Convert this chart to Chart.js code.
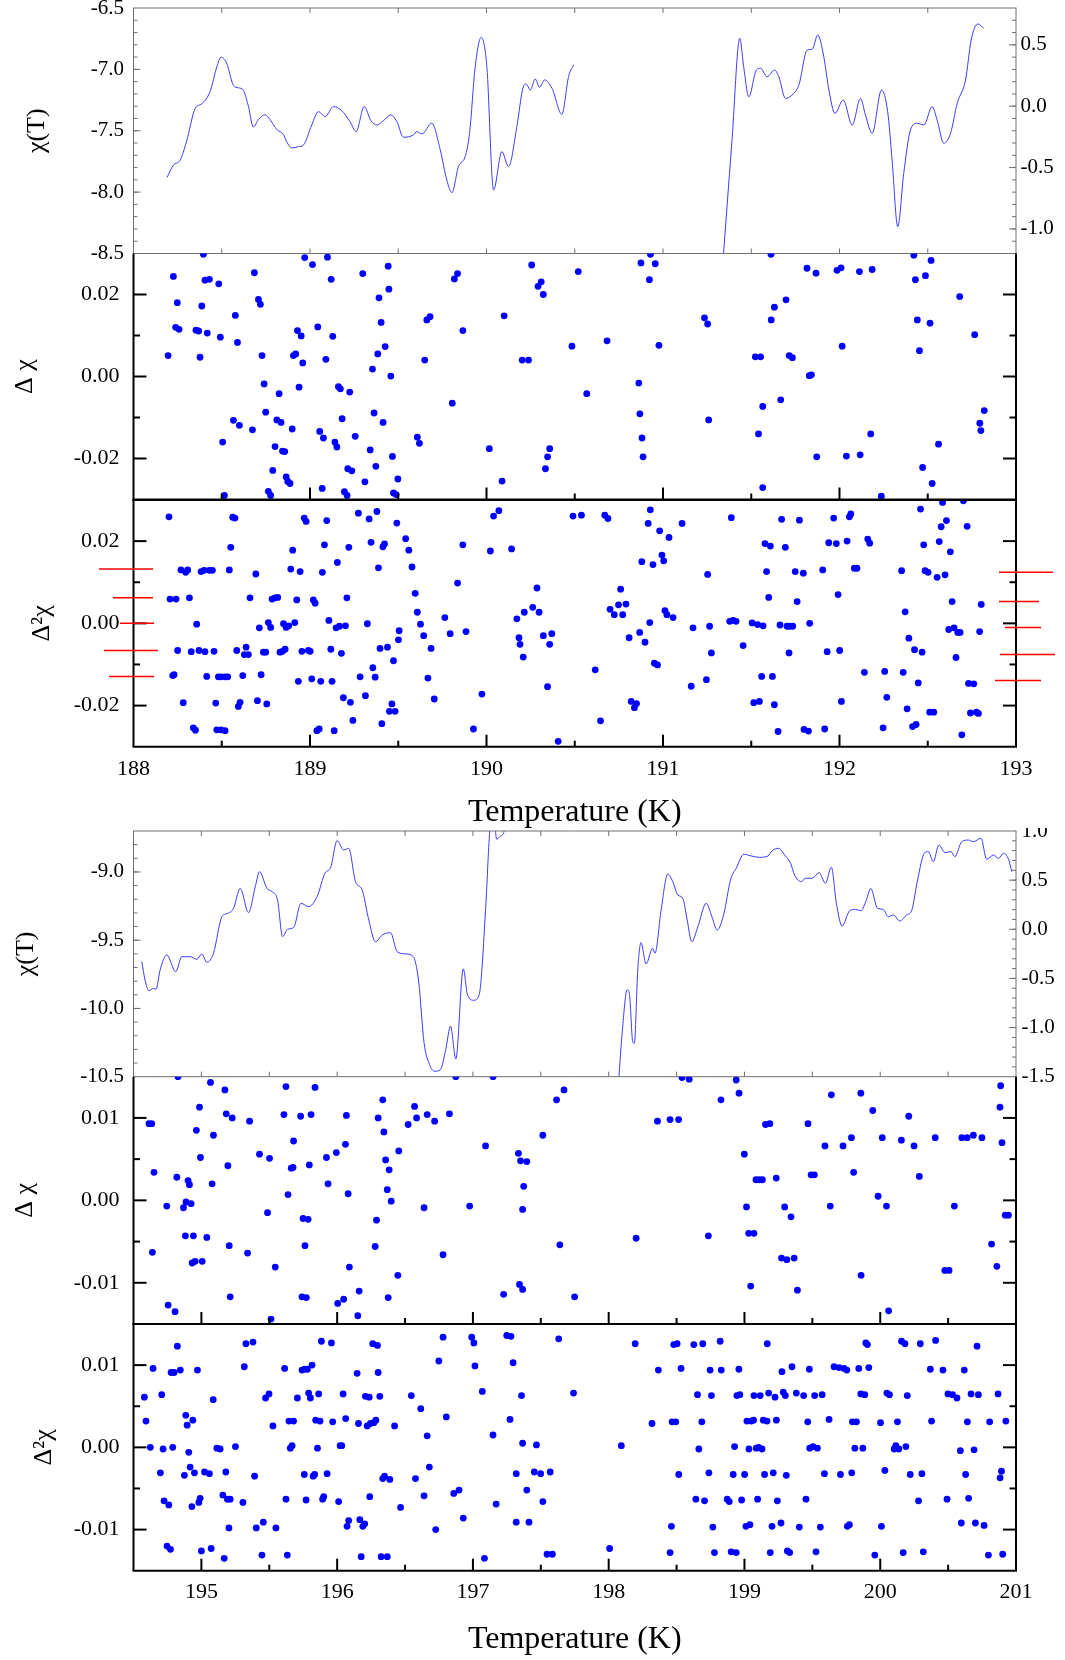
<!DOCTYPE html>
<html>
<head>
<meta charset="utf-8">
<title>χ(T)</title>
<script src="https://cdn.jsdelivr.net/npm/chart.js@4.4.0/dist/chart.umd.min.js"></script>
<style>
  html, body { margin: 0; padding: 0; background: #fff; }
  #page { position: relative; width: 1065px; height: 1660px; overflow: hidden; background: #fff; }
  #page canvas { position: absolute; left: 0; }
</style>
</head>
<body>
<div id="page"></div>
<script>
// ---------- 188 - 193 K ----------
const chiTopT = [188.19,188.226,188.264,188.30,188.349,188.387,188.434,188.472,188.496,188.528,188.566,188.594,188.622,188.651,188.679,188.707,188.745,188.774,188.812,188.849,188.868,188.897,188.934,188.963,189.010,189.048,189.086,189.133,189.180,189.227,189.261,189.307,189.345,189.379,189.416,189.458,189.492,189.530,189.586,189.605,189.634,189.690,189.738,189.775,189.804,189.841,189.879,189.904,189.936,189.970,190.002,190.040,190.087,190.125,190.172,190.206,190.225,190.248,190.276,190.301,190.329,190.371,190.427,190.465,190.493];
const chiTopV = [-7.88,-7.78,-7.74,-7.59,-7.32,-7.28,-7.18,-6.98,-6.90,-6.95,-7.13,-7.15,-7.17,-7.30,-7.47,-7.41,-7.37,-7.41,-7.49,-7.53,-7.59,-7.64,-7.63,-7.616,-7.453,-7.344,-7.385,-7.303,-7.336,-7.426,-7.507,-7.303,-7.418,-7.453,-7.418,-7.371,-7.426,-7.553,-7.534,-7.507,-7.526,-7.439,-7.656,-7.901,-8.004,-7.792,-7.711,-7.521,-6.978,-6.739,-6.978,-7.982,-7.670,-7.792,-7.466,-7.154,-7.119,-7.168,-7.078,-7.146,-7.086,-7.154,-7.366,-7.059,-6.964];
// second run, read on the right-hand axis
const chiTopRT = [191.33,191.391,191.435,191.457,191.486,191.529,191.552,191.590,191.632,191.656,191.694,191.741,191.770,191.817,191.845,191.877,191.911,191.940,191.974,192.021,192.072,192.119,192.147,192.185,192.238,192.273,192.298,192.330,192.364,192.402,192.440,192.478,192.525,192.553,192.591,192.629,192.667,192.714,192.746,192.784,192.817];
const chiTopRV = [-1.45,-0.275,0.553,0.322,0.077,0.295,0.309,0.240,0.295,0.240,0.064,0.105,0.173,0.458,0.464,0.580,0.403,0.132,-0.058,0.050,-0.153,0.064,-0.072,-0.221,0.132,-0.045,-0.438,-0.982,-0.547,-0.194,-0.139,-0.153,-0.004,-0.112,-0.302,-0.221,0.024,0.213,0.539,0.670,0.635];

const dChiTopT = [188.196,188.226,188.239,188.248,188.258,188.354,188.369,188.377,188.387,188.396,188.405,188.418,188.430,188.483,188.492,188.505,188.515,188.566,188.577,188.589,188.600,188.674,188.685,188.708,188.719,188.728,188.740,188.749,188.764,188.777,188.789,188.802,188.812,188.825,188.836,188.844,188.857,188.865,188.874,188.887,188.899,188.906,188.919,188.929,188.938,188.950,188.959,188.970,189.014,189.044,189.055,189.069,189.076,189.090,189.099,189.120,189.129,189.141,189.152,189.161,189.172,189.182,189.195,189.210,189.214,189.225,189.237,189.256,189.299,189.311,189.341,189.354,189.363,189.373,189.384,189.391,189.403,189.414,189.426,189.443,189.447,189.458,189.467,189.473,189.488,189.498,
  190.956,191.612,191.816,191.867,191.986,192.009,192.113,192.185,192.421,192.430,192.487,192.519,
  189.620,189.608,189.662,189.680,189.650,189.806,189.818,189.836,189.866,190.016,190.088,190.100,190.202,190.238,190.256,190.292,190.310,190.322,190.334,190.346,190.358,190.484,190.520,190.568,190.683,190.863,190.869,190.881,190.887,190.875,190.929,190.977,190.923,191.235,191.253,191.259,191.523,191.553,191.565,191.565,191.541,191.613,191.631,191.697,191.715,191.733,191.667,191.829,191.841,191.871,192.015,192.039,192.117,192.177,192.237,192.441,192.453,192.471,192.513,192.525,192.561,192.681,192.766,192.795,192.801,192.820];
const dChiTopV = [.0051,.0244,.0120,.0180,.0115,.0113,.0111,.0047,.0172,.0298,.0235,.0106,.0237,.0226,.0096,-.0160,-.0290,-.0107,.0149,.0083,-.0119,-.0130,.0253,.0188,.0176,.0051,-.0018,-.0087,-.0280,-.0290,-.0229,-.0171,-.0106,-.0042,-.0112,-.0182,-.0183,-.0245,-.0256,-.0261,-.0128,.0051,.0055,.0112,-.0026,.0099,.0033,.0290,.0273,.0121,-.0134,-.0273,-.0150,.0042,.0291,.0237,.0098,-.0160,-.0172,-.0025,-.0030,-.0103,-.0281,-.0290,-.0225,-.0038,-.0230,-.0146,.0251,-.0257,-.0179,.0018,-.0089,-.0219,.0055,.0192,.0132,-.0112,.0073,.0269,.0213,.0001,-.0195,-.0284,-.0288,-.0250,
  .0275,.0298,.0264,.0252,.0259,.0265,.0256,.0261,.0296,.0236,.0246,.0283,
  -.0163,-.0148,.0138,.0146,.0040,-.0065,.0238,.0251,.0112,-.0176,-.0255,.0148,.0040,.0040,.0272,.0220,.0231,.0200,-.0225,-.0196,-.0176,.0074,.0256,-.0042,.0087,-.0016,-.0091,-.0150,-.0196,.0277,.0298,.0076,.0236,.0143,.0128,-.0106,.0048,.0048,-.0073,-.0271,-.0140,.0138,.0169,.0187,.0051,.0046,-.0057,.0002,.0004,-.0196,.0074,-.0194,-.0191,-.0140,-.0292,.0138,.0063,-.0222,.0130,-.0261,-.0165,.0195,.0102,-.0114,-.0132,-.0083];

const d2ChiTopT = [188.201,188.207,188.241,188.222,188.230,188.250,188.269,188.296,188.307,188.282,188.317,188.327,188.339,188.351,188.358,188.371,188.383,188.405,188.415,188.400,188.430,188.447,188.456,188.466,188.481,188.496,188.519,188.534,188.472,188.496,188.519,188.551,188.562,188.575,188.543,188.585,188.594,188.604,188.619,188.638,188.628,188.651,188.660,188.693,188.702,188.723,188.736,188.749,188.755,188.764,188.777,188.713,188.785,188.802,188.817,188.830,188.844,188.859,188.850,188.865,188.880,188.914,188.891,188.902,188.925,188.934,188.944,188.954,188.967,188.978,188.991,189.001,189.010,189.019,189.029,189.039,189.052,189.061,189.070,189.082,189.095,189.107,189.118,189.125,189.137,189.148,189.155,189.167,189.178,189.189,189.201,189.209,189.220,189.229,189.243,189.274,189.284,189.314,189.325,189.335,189.346,189.356,189.369,189.379,189.388,189.397,189.413,189.422,189.439,189.464,189.473,189.450,189.482,189.407,189.492,189.501,189.505,
  190.925,190.928,190.981,191.034,191.108,190.994,191.004,190.943,191.011,191.022,191.057,190.951,190.969,191.160,191.170,191.246,191.253,191.264,191.274,191.387,191.378,191.397,191.414,191.454,191.505,191.536,191.567,191.514,191.546,191.559,191.578,191.608,191.587,191.599,191.620,191.631,191.652,191.672,191.663,191.693,191.703,191.718,191.735,191.714,191.749,191.795,191.760,191.773,191.799,191.824,191.831,191.905,191.916,191.930,191.939,191.967,191.982,191.992,192.001,192.011,192.043,192.056,192.064,192.084,192.099,192.141,192.160,192.171,192.247,192.256,192.268,192.352,192.361,192.372,192.383,192.393,192.414,192.434,192.425,192.446,192.459,192.468,192.477,192.485,192.502,192.511,192.534,192.553,192.565,192.576,192.584,192.606,192.598,192.619,192.628,192.638,192.649,192.660,192.670,192.683,192.693,192.702,192.723,192.731,192.761,192.742,192.776,192.787,192.794,192.803,
  189.542,189.560,189.578,189.596,189.608,189.626,189.644,189.668,189.686,189.704,189.764,189.794,189.836,189.866,189.884,189.926,189.974,190.022,190.040,190.070,190.142,190.172,190.184,190.190,190.208,190.214,190.262,190.286,190.298,190.322,190.346,190.358,190.370,190.406,190.490,190.538,190.616,190.646,190.670,190.688,190.700,190.724,190.748,190.760,190.772,190.790,190.808,190.820,190.838,190.850,190.868,190.880,190.898,190.916];
const d2ChiTopV = [.0259,.0059,.0059,-.0127,-.0125,-.0066,.0130,.0124,.0130,-.0193,.0062,-.0069,-.0254,-.0260,-.0002,-.0066,.0126,-.0069,-.0129,.0129,.0129,.0129,-.0068,-.0194,-.0130,-.0130,-.0130,-.0130,-.0259,-.0259,-.0261,.0185,.0258,.0256,.0130,-.0066,-.0202,-.0192,-.0127,-.0058,-.0076,-.0076,.0062,.0120,-.0188,-.0125,-.0070,-.0070,-.0196,.0002,-.0010,-.0011,.0059,.0062,.0063,-.0070,-.0068,-.0063,-.0001,-.0010,-.0006,.0002,.0132,.0178,.0057,-.0141,.0126,-.0068,.0256,.0248,-.0066,-.0068,-.0135,.0057,.0049,-.0261,-.0257,-.0141,.0124,.0191,.0250,.0007,-.0063,-.0141,-.0261,-.0011,.0148,-.0007,-.0073,-.0181,-.0006,.0062,.0185,-.0192,-.0236,.0268,-.0130,-.0176,-.0001,.0254,.0197,-.0108,-.0131,.0272,.0135,-.0061,.0186,.0193,-.0058,-.0196,-.0091,-.0214,-.0214,-.0244,.0244,-.0040,-.0018,
  .0002,.0276,.0225,.0209,.0243,.0166,.0152,.0143,.0031,.0021,.0014,-.0097,-.0101,-.0153,-.0011,-.0137,.0119,-.0007,-.0072,.0257,.0005,.0007,.0005,-.0054,.0001,-.0003,-.0006,-.0193,-.0190,-.0129,.0194,.0188,.0126,.0063,-.0129,-.0198,-.0263,.0253,-.0004,.0185,-.0007,-.0007,-.0007,-.0072,.0126,.0122,.0053,.0251,-.0258,-.0262,.0000,.0130,-.0257,-.0069,.0196,.0256,.0194,.0070,-.0066,-.0190,.0200,.0259,.0266,.0134,.0134,-.0119,.0205,.0195,-.0254,-.0117,-.0180,.0128,-.0119,.0028,-.0208,-.0036,-.0251,-.0246,-.0064,-.0145,.0278,-.0070,.0191,.0128,.0124,-.0216,-.0216,.0112,.0199,.0235,.0294,.0250,.0118,-.0015,.0174,.0053,-.0011,-.0083,-.0022,-.0022,-.0271,.0298,.0236,-.0146,-.0147,-.0218,-.0216,-.0219,-.0020,.0046,
  .0206,.0178,.0137,.0073,.0027,-.0002,-.0030,-.0133,-.0061,-.0184,.0014,-.0025,.0098,.0191,-.0020,-.0257,-.0172,.0176,.0261,.0274,.0181,.0011,-.0035,-.0051,-.0082,.0027,.0039,.0086,.0027,-.0030,-.0154,-.0051,-.0025,-.0287,.0261,.0263,-.0113,-.0237,.0263,.0255,.0034,.0021,.0045,.0083,.0021,.0047,-.0035,-.0190,-.0205,-.0195,-.0022,.0150,-.0046,.0243];

// red level markers beside the Δ²χ panel
const levelsLeft = [.0132, .0062, 0, -.0066, -.0129];
const levelsRight = [.0124, .0053, -.0010, -.0076, -.0139];

// ---------- 194.5 - 201 K ----------
const chiBotT = [194.561,194.585,194.614,194.646,194.666,194.696,194.745,194.811,194.856,194.917,194.966,195.003,195.040,195.089,195.151,195.195,195.237,195.286,195.347,195.397,195.428,195.483,195.520,195.561,195.598,195.635,195.680,195.734,195.790,195.852,195.913,195.950,196.000,196.048,196.085,196.135,196.184,196.233,196.282,196.332,196.393,196.442,196.50,196.56,196.60,196.64,196.68,196.72,196.76,196.80,196.835,196.874,196.929,196.960,197.007,197.046,197.093,197.124,197.15,197.175,197.20,197.23,197.25];
const chiBotV = [-9.657,-9.792,-9.870,-9.853,-9.860,-9.718,-9.608,-9.731,-9.621,-9.621,-9.640,-9.601,-9.662,-9.596,-9.328,-9.303,-9.266,-9.120,-9.298,-9.108,-8.998,-9.120,-9.144,-9.205,-9.474,-9.420,-9.406,-9.230,-9.254,-9.181,-9.005,-8.973,-8.771,-8.839,-8.827,-9.071,-9.132,-9.352,-9.511,-9.462,-9.445,-9.584,-9.60,-9.62,-9.80,-10.25,-10.41,-10.46,-10.45,-10.30,-10.13,-10.37,-9.71,-9.90,-9.94,-9.90,-9.28,-8.70,-8.55,-8.76,-8.74,-8.70,-8.55];
const chiBotRT = [198.07,198.103,198.135,198.152,198.177,198.189,198.214,198.238,198.275,198.324,198.341,198.386,198.435,198.472,198.509,198.546,198.578,198.612,198.657,198.718,198.760,198.799,198.849,198.897,198.939,198.996,199.050,199.111,199.173,199.203,199.251,199.296,199.340,199.369,199.419,199.448,199.498,199.550,199.596,199.640,199.677,199.719,199.775,199.817,199.857,199.898,199.930,199.980,200.022,200.059,200.096,200.145,200.194,200.231,200.275,200.324,200.354,200.391,200.432,200.476,200.521,200.550,200.600,200.649,200.686,200.742,200.784,200.834,200.871,200.908,200.945,200.969];
const chiBotRV = [-1.6,-0.991,-0.617,-0.651,-1.143,-1.160,-0.414,-0.136,-0.353,-0.193,-0.244,0.196,0.563,0.484,0.349,0.315,0.095,-0.126,0.026,0.264,0.128,-0.007,0.163,0.502,0.621,0.763,0.746,0.732,0.746,0.797,0.824,0.756,0.671,0.552,0.484,0.519,0.519,0.576,0.468,0.631,0.264,0.034,0.189,0.203,0.189,0.298,0.417,0.214,0.203,0.128,0.146,0.084,0.146,0.189,0.502,0.773,0.790,0.688,0.858,0.780,0.790,0.739,0.891,0.908,0.891,0.926,0.712,0.756,0.722,0.773,0.712,0.586];

const dChiBotT = [194.614,194.634,194.651,194.639,194.745,194.819,194.828,194.755,194.806,194.868,194.887,194.902,194.912,194.924,194.882,194.941,194.932,194.954,195.006,194.963,194.986,194.993,195.040,195.067,195.079,195.089,195.173,195.183,195.195,195.205,195.212,195.227,195.340,195.355,195.428,195.487,195.502,195.513,195.544,195.608,195.623,195.638,195.662,195.675,195.679,195.731,195.749,195.763,195.741,195.773,195.786,195.795,195.808,195.837,195.921,195.933,195.994,196.004,196.048,196.061,196.068,196.081,196.090,196.152,196.162,196.280,196.290,196.302,196.336,196.344,196.357,196.369,196.383,196.398,196.376,196.447,196.454,
  198.540,198.939,199.640,199.857,200.887,
  196.523,196.570,196.585,196.640,196.663,196.718,196.780,196.827,196.874,196.976,197.093,197.148,197.226,197.335,197.351,197.366,197.374,197.343,197.366,197.397,197.515,197.616,197.640,197.671,197.749,198.202,198.359,198.452,198.515,198.593,198.734,198.827,198.960,198.999,199.015,199.031,199.046,199.070,199.085,199.109,199.132,199.155,199.187,199.234,199.273,199.296,199.312,199.343,199.366,199.390,199.468,199.491,199.515,199.593,199.632,199.726,199.788,199.804,199.859,199.945,199.984,200.015,200.046,200.062,200.156,200.210,200.249,200.288,200.405,200.476,200.507,200.546,200.601,200.640,200.686,200.749,200.820,200.859,200.882,200.897,200.921,200.944];
const dChiBotV = [.0093,.0093,.0034,-.0063,-.0007,.0028,.0150,-.0127,-.0135,-.0009,-.0002,.0024,.0019,-.0004,-.0043,-.0043,-.0076,-.0074,-.0074,.0085,.0113,.0052,-.0045,.0143,.0020,.0079,.0134,.0105,.0042,-.0055,-.0117,.0100,-.0064,.0096,.0056,-.0015,.0051,-.0144,-.0081,.0104,.0138,.0007,.0039,.0040,.0072,.0102,-.0022,-.0055,-.0117,-.0118,-.0023,.0043,.0104,.0137,.0052,.0020,.0058,-.0125,-.0120,.0068,.0103,.0008,-.0081,-.0140,-.0110,-.0056,-.0024,.0100,.0122,.0083,.0049,.0013,.0037,-.0001,-.0118,-.0091,.0060,
  .0149,.0146,.0128,.0130,.0139,
  .0092,.0114,.0100,-.0009,.0104,.0096,-.0066,.0105,.0150,-.0007,.0066,.0150,-.0114,.0057,.0048,-.0011,.0017,-.0102,-.0108,.0047,.0079,.0122,-.0054,.0134,-.0117,-.0046,.0096,.0098,.0098,.0147,-.0043,.0122,.0130,.0056,-.0008,-.0040,-.0104,-.0040,.0025,.0025,.0025,.0092,.0093,.0027,-.0070,-.0008,-.0072,-.0020,-.0070,-.0109,.0093,.0031,.0031,.0066,-.0007,.0066,.0076,.0034,-.0091,.0109,.0005,.0076,-.0007,-.0134,.0073,.0102,.0066,.0029,.0076,-.0085,-.0085,-.0007,.0076,.0076,.0079,.0076,-.0053,-.0080,.0113,.0070,-.0018,-.0018];

const d2ChiBotT = [194.580,194.592,194.624,194.644,194.698,194.708,194.718,194.725,194.760,194.747,194.772,194.789,194.777,194.799,194.823,194.845,194.875,194.885,194.895,194.907,194.917,194.930,194.937,194.949,194.971,194.981,194.991,195.000,195.023,195.059,195.072,195.087,195.114,195.138,195.158,195.168,195.180,195.192,195.203,195.212,195.251,195.306,195.316,195.328,195.380,195.392,195.404,195.446,195.456,195.473,195.498,195.513,195.527,195.549,195.613,195.623,195.633,195.645,195.655,195.668,195.679,195.707,195.741,195.761,195.781,195.758,195.771,195.790,195.803,195.815,195.823,195.834,195.842,195.864,195.855,195.874,195.884,195.893,195.901,195.926,195.958,195.967,196.011,196.022,196.034,196.044,196.063,196.073,196.085,196.147,196.157,196.167,196.177,196.189,196.203,196.208,196.221,196.236,196.240,196.245,196.262,196.270,196.285,196.297,196.302,196.314,196.324,196.336,196.349,196.369,196.388,196.423,196.467,
  198.479,198.504,198.627,198.693,198.821,199.168,199.894,199.906,200.157,200.182,200.295,200.408,200.713,
  198.366,198.533,198.747,198.829,198.959,199.276,199.350,199.478,199.660,199.697,199.734,199.754,199.842,199.916,200.369,200.462,200.619,
  198.654,198.757,198.944,198.966,199.070,199.116,199.178,199.225,199.286,199.301,199.382,199.436,199.517,199.572,199.857,199.886,200.049,200.068,200.199,200.499,200.533,200.565,200.669,200.723,200.868,
  198.319,198.467,198.494,198.686,199.018,199.050,199.067,199.139,199.166,199.235,199.466,199.623,199.795,199.825,200.002,200.127,200.378,200.642,200.806,200.925,
  198.664,198.927,199.033,199.087,199.104,199.129,199.481,199.505,199.537,199.813,199.872,200.103,200.115,200.137,200.189,200.590,200.691,
  198.516,198.738,198.917,199.001,199.148,199.212,199.308,199.589,199.707,199.790,200.034,200.221,200.307,200.629,200.883,200.893,
  198.642,198.706,198.873,198.888,198.979,199.097,199.242,199.453,200.282,200.492,200.651,
  198.462,198.767,199.011,199.040,199.203,199.269,199.404,199.559,199.758,199.773,200.009,200.597,200.701,200.765,
  198.452,198.779,198.902,198.939,199.190,199.316,199.333,199.527,199.960,200.169,200.317,200.797,200.902,
  196.546,196.577,196.616,196.640,196.663,196.679,196.726,196.749,196.780,196.804,196.859,196.898,196.929,196.991,197.007,197.015,197.069,197.085,197.148,197.171,197.249,197.273,197.280,197.296,197.319,197.319,197.358,197.366,197.397,197.413,197.452,197.468,197.499,197.515,197.546,197.569,197.585,197.632,197.741,198.007,198.093,198.195];
const d2ChiBotV = [.0061,.0032,.0000,.0096,-.0031,.0064,-.0002,-.0065,-.0070,-.0120,-.0124,.0000,.0091,.0091,.0123,.0094,-.0034,.0039,.0027,-.0006,-.0024,-.0072,.0033,-.0031,.0094,-.0067,-.0062,-.0126,-.0030,-.0032,-.0123,.0058,-.0001,-.0002,-.0058,-.0135,-.0030,-.0063,-.0098,-.0063,.0001,-.0067,.0098,.0126,.0128,-.0035,-.0098,-.0131,-.0091,.0060,.0065,.0157,.0026,-.0098,.0096,-.0063,-.0131,.0032,-.0001,.0002,.0032,.0060,.0094,.0095,.0095,-.0033,-.0064,.0066,.0060,.0100,-.0035,-.0033,.0033,.0065,-.0001,.0032,.0129,-.0063,-.0060,-.0032,.0127,.0031,-.0066,.0002,.0002,.0065,.0035,-.0096,-.0089,.0090,.0029,-.0088,-.0133,-.0096,-.0093,.0062,.0026,.0061,-.0060,.0029,.0126,.0030,.0033,.0124,.0091,.0062,-.0133,-.0038,-.0035,-.0133,-.0039,.0026,-.0073,
  .0125,.0126,.0125,.0126,.0129,.0126,.0127,.0125,.0129,.0126,.0126,.0130,.0123,
  .0094,.0096,.0094,.0094,.0095,.0092,.0098,.0095,.0098,.0097,.0096,.0094,.0096,.0097,.0095,.0094,.0094,
  .0064,.0063,.0063,.0064,.0063,.0063,.0066,.0061,.0067,.0063,.0066,.0063,.0063,.0064,.0065,.0064,.0066,.0064,.0063,.0065,.0064,.0060,.0065,.0064,.0065,
  .0029,.0031,.0031,.0031,.0032,.0032,.0033,.0033,.0032,.0033,.0031,.0034,.0031,.0031,.0030,.0031,.0032,.0031,.0031,.0032,
  -.0002,.0001,-.0002,-.0001,.0000,-.0002,-.0001,.0001,-.0001,-.0001,-.0001,-.0002,.0002,-.0002,.0001,-.0004,-.0003,
  -.0033,-.0031,-.0033,-.0033,-.0033,-.0031,-.0034,-.0032,-.0033,-.0031,-.0028,-.0033,-.0032,-.0033,-.0037,-.0029,
  -.0063,-.0065,-.0063,-.0066,-.0064,-.0063,-.0065,-.0063,-.0065,-.0063,-.0062,
  -.0096,-.0097,-.0096,-.0094,-.0096,-.0092,-.0097,-.0097,-.0096,-.0094,-.0096,-.0092,-.0092,-.0095,
  -.0128,-.0128,-.0127,-.0128,-.0128,-.0126,-.0128,-.0127,-.0131,-.0128,-.0127,-.0131,-.0130,
  .0063,-.0038,.0047,-.0059,.0014,-.0024,-.0100,.0105,.0134,.0037,-.0056,-.0052,-.0086,.0134,.0127,.0099,.0068,-.0135,.0015,-.0069,.0136,.0034,.0135,.0103,-.0032,-.0091,.0063,.0005,-.0052,-.0091,-.0030,.0003,-.0032,-.0066,-.0130,-.0030,-.0130,.0132,.0066,-.0123,.0002,.0126];

const tempTicksTop = [188, 189, 190, 191, 192, 193];
const tempTicksBot = [195, 196, 197, 198, 199, 200, 201];

// ---------- drawing ----------
const SERIF = '"Liberation Serif", "Times New Roman", serif';
Chart.defaults.font.family = SERIF;
Chart.defaults.color = '#000';

const W = 1065;
const pts = (xs, ys) => xs.map((x, i) => ({ x, y: ys[i] }));
const steps = (a, b, s) => { const out = []; for (let v = a; v <= b + 1e-9; v += s) out.push(+v.toFixed(4)); return out; };

function addCanvas(top, height) {
  const c = document.createElement('canvas');
  c.width = W; c.height = height;
  c.style.top = top + 'px';
  c.style.width = W + 'px'; c.style.height = height + 'px';
  document.getElementById('page').appendChild(c);
  return c;
}

// axis frame with inward tick marks
function framePlugin(cfg) {
  return {
    id: 'frame',
    afterDraw(chart) {
      const { ctx, chartArea: a } = chart;
      ctx.save();
      ctx.strokeStyle = cfg.color;
      ctx.lineWidth = cfg.width;
      const seg = (x0, y0, x1, y1) => { ctx.beginPath(); ctx.moveTo(x0, y0); ctx.lineTo(x1, y1); ctx.stroke(); };
      cfg.ticks.forEach(t => {
        const sc = chart.scales[t.scale];
        t.values.forEach(v => {
          const p = sc.getPixelForValue(v);
          if (t.side === 'bottom') seg(p, a.bottom, p, a.bottom - t.len);
          if (t.side === 'top') seg(p, a.top, p, a.top + t.len);
          if (t.side === 'left') seg(a.left, p, a.left + t.len, p);
          if (t.side === 'right') seg(a.right, p, a.right - t.len, p);
        });
      });
      const h = cfg.width / 2;
      if (cfg.sides.includes('t')) seg(a.left - h, a.top, a.right + h, a.top);
      if (cfg.sides.includes('b')) seg(a.left - h, a.bottom, a.right + h, a.bottom);
      if (cfg.sides.includes('l')) seg(a.left, a.top, a.left, a.bottom);
      if (cfg.sides.includes('r')) seg(a.right, a.top, a.right, a.bottom);
      ctx.restore();
    }
  };
}

// short red bars marking the Δ²χ levels
function levelPlugin(left, leftSpan, right, rightSpan) {
  return {
    id: 'levels',
    afterDraw(chart) {
      const { ctx } = chart;
      const y = chart.scales.y;
      ctx.save();
      ctx.strokeStyle = '#ff0000';
      ctx.lineWidth = 1.5;
      const draw = (vals, spans) => vals.forEach((v, i) => {
        const p = y.getPixelForValue(v);
        ctx.beginPath(); ctx.moveTo(spans[i][0], p); ctx.lineTo(spans[i][1], p); ctx.stroke();
      });
      draw(left, leftSpan);
      draw(right, rightSpan);
      ctx.restore();
    }
  };
}

// labels may hang over the plot edges without shrinking the plot
const noEdgePadding = s => { s.paddingTop = 0; s.paddingBottom = 0; s.paddingLeft = 0; s.paddingRight = 0; };

function yAxis(o) {
  return {
    type: 'linear', position: o.position || 'left', min: o.min, max: o.max,
    grid: { display: false, drawTicks: false }, border: { display: false },
    ticks: { padding: o.pad, font: { size: o.size }, color: '#000', callback: v => v.toFixed(o.digits) },
    afterBuildTicks: s => { s.ticks = o.ticks.map(value => ({ value })); },
    afterFit: s => { s.width = o.width; noEdgePadding(s); },
    title: o.title ? { display: true, text: o.title, color: '#000', font: { size: 26 }, padding: { top: o.titleX - 15.6, bottom: 0 } } : { display: false }
  };
}

function xHidden(min, max) {
  return { type: 'linear', min, max, display: false };
}

function xAxis(o) {
  return {
    type: 'linear', position: 'bottom', min: o.min, max: o.max,
    grid: { display: false, drawTicks: false }, border: { display: false },
    ticks: { padding: o.pad, font: { size: 22 }, color: '#000', maxRotation: 0, callback: v => String(v) },
    afterBuildTicks: s => { s.ticks = o.ticks.map(value => ({ value })); },
    afterFit: s => { s.height = o.height; noEdgePadding(s); },
    title: { display: true, text: 'Temperature (K)', color: '#000', font: { size: 32 }, padding: { top: 0, bottom: o.titlePad } }
  };
}

const lineSet = (data, axis) => ({
  data, yAxisID: axis, showLine: true, borderColor: '#3c3cff', borderWidth: 1,
  pointRadius: 0, cubicInterpolationMode: 'monotone', clip: 0
});
const dotSet = data => ({
  data, showLine: false, pointRadius: 3.4, pointBorderWidth: 0,
  pointBackgroundColor: '#0000ff', clip: 0
});

function makeChart(top, height, padding, datasets, scales, plugins) {
  return new Chart(addCanvas(top, height), {
    type: 'scatter',
    data: { datasets },
    options: {
      responsive: false, animation: false, devicePixelRatio: 1, events: [],
      layout: { autoPadding: false, padding: Object.assign({ left: 0, right: 0, top: 0, bottom: 0 }, padding) },
      plugins: { legend: { display: false }, tooltip: { enabled: false } },
      scales
    },
    plugins
  });
}

const GREY = '#707070';
const dTicksTopX = [
  { scale: 'x', side: 'bottom', values: [189, 190, 191, 192], len: 12 },
  { scale: 'x', side: 'bottom', values: steps(188.5, 192.5, 1), len: 6 }
];
const dTicksBotX = [
  { scale: 'x', side: 'bottom', values: [195, 196, 197, 198, 199, 200], len: 12 },
  { scale: 'x', side: 'bottom', values: steps(195.5, 200.5, 1), len: 6 }
];
const dTicksY = (major, minor) => [
  { scale: 'y', side: 'left', values: major, len: 13 },
  { scale: 'y', side: 'right', values: major, len: 13 },
  { scale: 'y', side: 'left', values: minor, len: 6.5 },
  { scale: 'y', side: 'right', values: minor, len: 6.5 }
];

// panel 1: χ(T), 188-193 K
makeChart(0, 268, { top: 8, bottom: 14.5 },
  [lineSet(pts(chiTopT, chiTopV), 'y'), lineSet(pts(chiTopRT, chiTopRV), 'y2')],
  {
    x: xHidden(188, 193),
    y: yAxis({ min: -8.5, max: -6.5, ticks: [-8.5, -8, -7.5, -7, -6.5], digits: 1, size: 21, pad: 9.5, width: 133.5, title: 'χ(T)', titleX: 37 }),
    y2: yAxis({ position: 'right', min: -1.2, max: 0.8, ticks: [-1, -0.5, 0, 0.5], digits: 1, size: 21, pad: 4.5, width: 49 })
  },
  [framePlugin({ color: GREY, width: 1, sides: 'tblr', ticks: [
    { scale: 'x', side: 'top', values: steps(188.5, 192.5, 0.5), len: 5 },
    { scale: 'x', side: 'bottom', values: steps(188.5, 192.5, 0.5), len: 5 },
    { scale: 'y', side: 'left', values: steps(-8.4, -6.6, 0.1), len: 4 },
    { scale: 'y', side: 'left', values: [-8, -7.5, -7], len: 7 },
    { scale: 'y2', side: 'right', values: steps(-1.1, 0.7, 0.1), len: 4 },
    { scale: 'y2', side: 'right', values: [-1, -0.5, 0, 0.5], len: 7 }
  ] })]);

// panel 2: Δχ, 188-193 K
makeChart(240, 274, { top: 13.5, bottom: 14.5, right: 49 },
  [dotSet(pts(dChiTopT, dChiTopV))],
  {
    x: xHidden(188, 193),
    y: yAxis({ min: -0.03, max: 0.03, ticks: [-0.02, 0, 0.02], digits: 2, size: 22, pad: 14, width: 133.5, title: 'Δ χ', titleX: 25 })
  },
  [framePlugin({ color: '#000', width: 2, sides: 'lrb', ticks: dTicksTopX.concat(dTicksY([-0.02, 0, 0.02], [-0.01, 0.01])) })]);

// panel 3: Δ²χ, 188-193 K, with the temperature axis
makeChart(486, 347, { top: 14, right: 49 },
  [dotSet(pts(d2ChiTopT, d2ChiTopV))],
  {
    x: xAxis({ min: 188, max: 193, ticks: tempTicksTop, height: 86.3, pad: 9.6, titlePad: 0.8 }),
    y: yAxis({ min: -0.03, max: 0.03, ticks: [-0.02, 0, 0.02], digits: 2, size: 22, pad: 14, width: 133.5, title: 'Δ²χ', titleX: 42 })
  },
  [framePlugin({ color: '#000', width: 2, sides: 'tlrb', ticks: dTicksTopX.concat(dTicksY([-0.02, 0, 0.02], [-0.01, 0.01])) }),
   levelPlugin(levelsLeft, [[99, 153], [113, 153], [120, 154], [104, 158], [109, 154]],
               levelsRight, [[999, 1053], [999, 1039], [1005, 1041], [1000, 1055], [995, 1041]])]);

// panel 4: χ(T), 194.5-201 K
makeChart(828, 263, { top: 3, bottom: 14.3 },
  [lineSet(pts(chiBotT, chiBotV), 'y'), lineSet(pts(chiBotRT, chiBotRV), 'y2')],
  {
    x: xHidden(194.5, 201),
    y: yAxis({ min: -10.5, max: -8.7, ticks: [-10.5, -10, -9.5, -9], digits: 1, size: 21, pad: 9.5, width: 133.5, title: 'χ(T)', titleX: 26 }),
    y2: yAxis({ position: 'right', min: -1.5, max: 1.0, ticks: [-1.5, -1, -0.5, 0, 0.5, 1], digits: 1, size: 21, pad: 5.5, width: 49 })
  },
  [framePlugin({ color: GREY, width: 1, sides: 'tblr', ticks: [
    { scale: 'x', side: 'top', values: steps(195, 200.5, 0.5), len: 5 },
    { scale: 'x', side: 'bottom', values: steps(195, 200.5, 0.5), len: 5 },
    { scale: 'y', side: 'left', values: steps(-10.4, -8.8, 0.1), len: 4 },
    { scale: 'y', side: 'left', values: [-10, -9.5, -9], len: 7 },
    { scale: 'y2', side: 'right', values: steps(-1.4, 0.9, 0.1), len: 4 },
    { scale: 'y2', side: 'right', values: [-1, -0.5, 0, 0.5], len: 7 }
  ] })]);

// panel 5: Δχ, 194.5-201 K
makeChart(1062, 276, { top: 14.7, bottom: 14, right: 49 },
  [dotSet(pts(dChiBotT, dChiBotV))],
  {
    x: xHidden(194.5, 201),
    y: yAxis({ min: -0.015, max: 0.015, ticks: [-0.01, 0, 0.01], digits: 2, size: 22, pad: 14, width: 133.5, title: 'Δ χ', titleX: 25 })
  },
  [framePlugin({ color: '#000', width: 2, sides: 'lrb', ticks: dTicksBotX.concat(dTicksY([-0.01, 0, 0.01], [-0.005, 0.005])) })]);

// panel 6: Δ²χ, 194.5-201 K, with the temperature axis
makeChart(1310, 350, { top: 14, right: 49 },
  [dotSet(pts(d2ChiBotT, d2ChiBotV))],
  {
    x: xAxis({ min: 194.5, max: 201, ticks: tempTicksBot, height: 89.3, pad: 8.5, titlePad: 1.3 }),
    y: yAxis({ min: -0.015, max: 0.015, ticks: [-0.01, 0, 0.01], digits: 2, size: 22, pad: 14, width: 133.5, title: 'Δ²χ', titleX: 44 })
  },
  [framePlugin({ color: '#000', width: 2, sides: 'tlrb', ticks: dTicksBotX.concat(dTicksY([-0.01, 0, 0.01], [-0.005, 0.005])) })]);
</script>
</body>
</html>
